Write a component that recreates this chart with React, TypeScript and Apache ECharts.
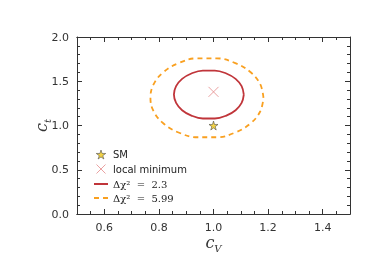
import React, { useEffect, useRef } from "react";
import * as echarts from "echarts";

const xRange = [0.5, 1.5];
const xMajorTicks = [0.6, 0.8, 1.0, 1.2, 1.4];
const xMinorStep = 0.05;
const yRange = [0, 2.0];
const yMajorStep = 0.5;

const smPoint: number[][] = [[1.0, 1.0]];
const localMin: number[][] = [[1.0, 1.38]];

const contour23: number[][] = [
  [1.111, 1.35], [1.103, 1.444], [1.081, 1.527], [1.047, 1.588], [1.005, 1.621],
  [0.961, 1.621], [0.919, 1.588], [0.885, 1.527], [0.863, 1.444], [0.855, 1.35],
  [0.863, 1.256], [0.885, 1.173], [0.919, 1.112], [0.961, 1.079], [1.005, 1.079],
  [1.047, 1.112], [1.081, 1.173], [1.103, 1.256], [1.111, 1.35],
];

const contour599: number[][] = [
  [1.183, 1.313], [1.171, 1.468], [1.135, 1.604], [1.08, 1.705], [1.012, 1.759],
  [0.94, 1.759], [0.872, 1.705], [0.817, 1.604], [0.781, 1.468], [0.769, 1.313],
  [0.781, 1.158], [0.817, 1.022], [0.872, 0.921], [0.94, 0.867], [1.012, 0.867],
  [1.08, 0.921], [1.135, 1.022], [1.171, 1.158], [1.183, 1.313],
];

const names = ["SM", "local minimum", "Δχ² = 2.3", "Δχ² = 5.99"];

const STAR = "path://M50,0 L61,35 L98,35 L68,57 L79,91 L50,70 L21,91 L32,57 L2,35 L39,35 Z";
const CROSS = "path://M0,0 L10,10 M10,0 L0,10";
const RED = "#c0353a";
const ORANGE = "#f9a020";
const STAR_FILL = "#f0c818";
const CROSS_COL = "#e58a8a";

export default function App() {
  const ref = useRef<HTMLDivElement>(null);
  useEffect(() => {
    if (!ref.current) return;
    const chart = echarts.init(ref.current, null, { renderer: "svg" });
    const axisColor = "#333";
    const labelStyle = { color: "#333", fontFamily: "DejaVu Sans", fontSize: 11 };
    const common = {
      type: "value" as const,
      splitLine: { show: false },
      axisLine: { show: true, onZero: false, lineStyle: { color: axisColor, width: 1 } },
    };
    const xMajor = {
      ...common,
      min: xRange[0],
      max: xRange[1],
      axisTick: { show: true, inside: true, length: 5, customValues: xMajorTicks, lineStyle: { color: axisColor } },
    };
    const xMinor = {
      ...common,
      min: xRange[0],
      max: xRange[1],
      interval: xMinorStep,
      axisLabel: { show: false },
      axisTick: { show: true, inside: true, length: 3, lineStyle: { color: axisColor } },
    };
    const yBase = {
      ...common,
      min: yRange[0],
      max: yRange[1],
      interval: yMajorStep,
      axisTick: { show: true, inside: true, length: 5, lineStyle: { color: axisColor } },
      minorTick: { show: true, splitNumber: 5, length: 3, lineStyle: { color: axisColor } },
    };
    const nameRich = {
      c: { fontFamily: "DejaVu Serif", fontStyle: "italic", fontSize: 16, lineHeight: 16, color: "#333", verticalAlign: "bottom", padding: [0, 0, 3, 0] },
      s: { fontFamily: "DejaVu Serif", fontStyle: "italic", fontSize: 10, lineHeight: 13, color: "#333", verticalAlign: "bottom" },
    };
    chart.setOption({
      animation: false,
      grid: { left: 77, right: 32, top: 37, bottom: 39, outerBoundsMode: "none", containLabel: false },
      xAxis: [
        {
          ...xMajor,
          position: "bottom",
          axisLabel: { ...labelStyle, margin: 8, customValues: xMajorTicks, formatter: (v: number) => v.toFixed(1) },
          name: "{c|c}{s|V}",
          nameLocation: "middle",
          nameGap: 23,
          nameMoveOverlap: false,
          nameTextStyle: { rich: nameRich },
        },
        { ...xMinor, position: "bottom" },
        { ...xMajor, position: "top", axisLabel: { show: false } },
        { ...xMinor, position: "top" },
      ],
      yAxis: [
        {
          ...yBase,
          position: "left",
          axisLabel: { ...labelStyle, margin: 8, formatter: (v: number) => v.toFixed(1) },
          name: "{c|c}{s|t}",
          nameLocation: "middle",
          nameGap: 25,
          nameMoveOverlap: false,
          nameTextStyle: { rich: nameRich },
        },
        { ...yBase, position: "right", axisLabel: { show: false } },
      ],
      legend: {
        data: [
          { name: names[0], icon: STAR, itemStyle: { color: STAR_FILL, borderColor: "#444", borderWidth: 0.7 } },
          { name: names[1], icon: CROSS, itemStyle: { color: "none", borderColor: CROSS_COL, borderWidth: 1 } },
          { name: names[2], itemStyle: { color: "transparent", borderWidth: 0, opacity: 0 } },
          { name: names[3], itemStyle: { color: "transparent", borderWidth: 0, opacity: 0 } },
        ],
        orient: "vertical",
        left: 88,
        top: 144,
        itemWidth: 14,
        itemHeight: 9,
        itemGap: 2,
        textStyle: {
          fontFamily: "DejaVu Sans",
          fontSize: 10,
          lineHeight: 11,
          color: "#222",
          rich: { m: { fontFamily: "DejaVu Serif", fontSize: 10, lineHeight: 12, color: "#222" } },
        },
        formatter: (n: string) => (n.startsWith("Δ") ? `{m|${n.replace(" = ", "  =  ")}}` : n),
      },
      series: [
        {
          name: names[2],
          type: "line",
          data: contour23,
          showSymbol: false,
          symbol: "none",
          smooth: 0.4,
          lineStyle: { color: RED, width: 1.8 },
          itemStyle: { color: RED },
          z: 3,
        },
        {
          name: names[3],
          type: "line",
          data: contour599,
          showSymbol: false,
          symbol: "none",
          smooth: 0.4,
          lineStyle: { color: ORANGE, width: 1.8, type: [5, 4] },
          itemStyle: { color: ORANGE },
          z: 3,
        },
        {
          name: names[0],
          type: "scatter",
          data: smPoint,
          symbol: STAR,
          symbolSize: 9,
          itemStyle: { color: STAR_FILL, borderColor: "#444", borderWidth: 0.7 },
          z: 5,
        },
        {
          name: names[1],
          type: "scatter",
          data: localMin,
          symbol: CROSS,
          symbolSize: 10,
          itemStyle: { color: "none", borderColor: CROSS_COL, borderWidth: 1 },
          z: 5,
        },
      ],
    });
    return () => chart.dispose();
  }, []);
  return <div ref={ref} style={{ position: "fixed", left: 0, top: 0, width: 382, height: 253 }} />;
}
